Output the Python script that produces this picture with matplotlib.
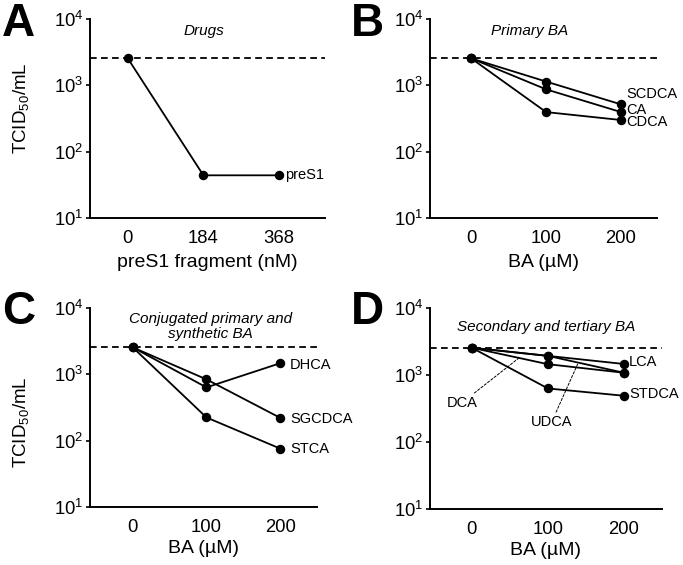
import matplotlib
matplotlib.use("Agg")
import matplotlib.pyplot as plt
import numpy as np

plt.rcParams['font.family'] = ['Liberation Sans', 'DejaVu Sans']
plt.rcParams['mathtext.fontset'] = 'custom'
plt.rcParams['mathtext.rm'] = 'Liberation Sans'
plt.rcParams['mathtext.it'] = 'Liberation Sans:italic'
plt.rcParams['mathtext.bf'] = 'Liberation Sans:bold'

# ---------------- data ----------------
control = 2550

a_x = [0, 184, 368]
a_preS1 = [2550, 44, 44]

ba_x = [0, 100, 200]
b_SCDCA = [2550, 1140, 516]
b_CA = [2550, 870, 395]
b_CDCA = [2550, 395, 300]

c_DHCA = [2550, 635, 1470]
c_SGCDCA = [2550, 840, 221]
c_STCA = [2550, 224, 76]

d_LCA = [2550, 1930, 1460]
d_DCA = [2550, 1450, 1080]
d_UDCA = [2550, 1930, 1080]
d_STDCA = [2550, 630, 490]

# --------------- figure ---------------
W, H = 683, 565
fig = plt.figure(figsize=(W / 100, H / 100), dpi=100)


def make_ax(left, right, top, bottom):
    return fig.add_axes([left / W, 1 - bottom / H, (right - left) / W, (bottom - top) / H])


TICK_FS = 13.3
LAB_FS = 14
SER_FS = 10.5
TTL_FS = 11
LW = 1.3
MS = 5.8


def style(ax, xticks, xlim):
    ax.set_yscale('log')
    ax.set_ylim(10, 1e4)
    ax.set_yticks([10, 100, 1000, 10000])
    ax.yaxis.set_minor_locator(matplotlib.ticker.NullLocator())
    ax.set_xlim(*xlim)
    ax.set_xticks(xticks)
    ax.set_xticklabels([str(v) for v in xticks])
    for s in ['top', 'right']:
        ax.spines[s].set_visible(False)
    for s in ['left', 'bottom']:
        ax.spines[s].set_linewidth(1.4)
    ax.tick_params(axis='x', length=0, pad=8.5, labelsize=TICK_FS)
    ax.tick_params(axis='y', length=3, width=1.2, pad=1.5, labelsize=TICK_FS, direction='out')
    ax.axhline(control, color='black', lw=1.3, dashes=(3.7, 2.4), zorder=1)
    ax.set_facecolor('none')


def series(ax, x, y):
    ax.plot(x, y, color='black', lw=LW, marker='o', ms=MS, zorder=3, clip_on=False)


def label_end(ax, x, y, text, dx, dy):
    ax.annotate(text, xy=(x, y), xytext=(dx, dy), textcoords='offset points',
                ha='left', va='center', fontsize=SER_FS, annotation_clip=False)


# Panel A
axA = make_ax(90, 325, 19, 218)
style(axA, a_x, (-92, 480))
series(axA, a_x, a_preS1)
label_end(axA, a_x[-1], a_preS1[-1], 'preS1', 4.5, 0)
axA.set_xlabel('preS1 fragment (nM)', fontsize=LAB_FS, labelpad=5.5)
axA.text(0.485, 0.94, 'Drugs', transform=axA.transAxes, ha='center', va='center',
         fontsize=TTL_FS, style='italic')

# Panel B
axB = make_ax(430, 657, 19, 218)
style(axB, ba_x, (-55, 248))
for vals in (b_SCDCA, b_CA, b_CDCA):
    series(axB, ba_x, vals)
label_end(axB, 200, b_SCDCA[-1], 'SCDCA', 4, 7.3)
label_end(axB, 200, b_CA[-1], 'CA', 4, 1.8)
label_end(axB, 200, b_CDCA[-1], 'CDCA', 4, -1.4)
axB.set_xlabel('BA (µM)', fontsize=LAB_FS, labelpad=5.5)
axB.text(0.44, 0.94, 'Primary BA', transform=axB.transAxes, ha='center', va='center',
         fontsize=TTL_FS, style='italic')

# Panel C
axC = make_ax(90, 317, 308, 507)
style(axC, ba_x, (-58, 250))
for vals in (c_DHCA, c_SGCDCA, c_STCA):
    series(axC, ba_x, vals)
label_end(axC, 200, c_DHCA[-1], 'DHCA', 7, -1.2)
label_end(axC, 200, c_SGCDCA[-1], 'SGCDCA', 7, -0.8)
label_end(axC, 200, c_STCA[-1], 'STCA', 7, 0)
axC.set_xlabel('BA (µM)', fontsize=LAB_FS, labelpad=3)
axC.text(0.53, 0.907, 'Conjugated primary and\nsynthetic BA', transform=axC.transAxes,
         ha='center', va='center', fontsize=TTL_FS, style='italic', linespacing=1.1)

# Panel D
axD = make_ax(430, 662, 308, 509)
style(axD, ba_x, (-55, 250))
for vals in (d_LCA, d_DCA, d_UDCA, d_STDCA):
    series(axD, ba_x, vals)
label_end(axD, 200, d_LCA[-1], 'LCA', 3.6, 1.5)
label_end(axD, 200, d_STDCA[-1], 'STDCA', 3.6, 1.2)


def on_line(xs, ys, x):
    return 10 ** np.interp(x, xs, np.log10(ys))


ptr = dict(arrowstyle='-', linestyle=(0, (2.5, 1.8)), lw=0.7, color='black',
           shrinkA=0, shrinkB=0)
axD.annotate('DCA', xy=(62, on_line(ba_x, d_DCA, 62)), xytext=(-13, 385),
             ha='center', va='center', fontsize=SER_FS, arrowprops=ptr)
axD.annotate('UDCA', xy=(140, on_line(ba_x, d_UDCA, 140)), xytext=(105, 200),
             ha='center', va='center', fontsize=SER_FS, arrowprops=ptr)
axD.set_xlabel('BA (µM)', fontsize=LAB_FS, labelpad=3)
axD.text(0.5, 0.906, 'Secondary and tertiary BA', transform=axD.transAxes,
         ha='center', va='center', fontsize=TTL_FS, style='italic')

# y labels
ylab = r'TCID$_{\mathrm{50}}$/mL'
fig.text(21 / W, 1 - 108 / H, ylab, rotation=90, ha='center', va='center', fontsize=13.5)
fig.text(21 / W, 1 - 422 / H, ylab, rotation=90, ha='center', va='center', fontsize=13.5)

# panel letters
for txt, x, y in (('A', 2, 2), ('B', 351, 2), ('C', 2, 290), ('D', 351, 290)):
    fig.text(x / W, 1 - y / H, txt, ha='left', va='top', fontsize=33, fontweight='bold')

fig.savefig('out.png', dpi=100)
